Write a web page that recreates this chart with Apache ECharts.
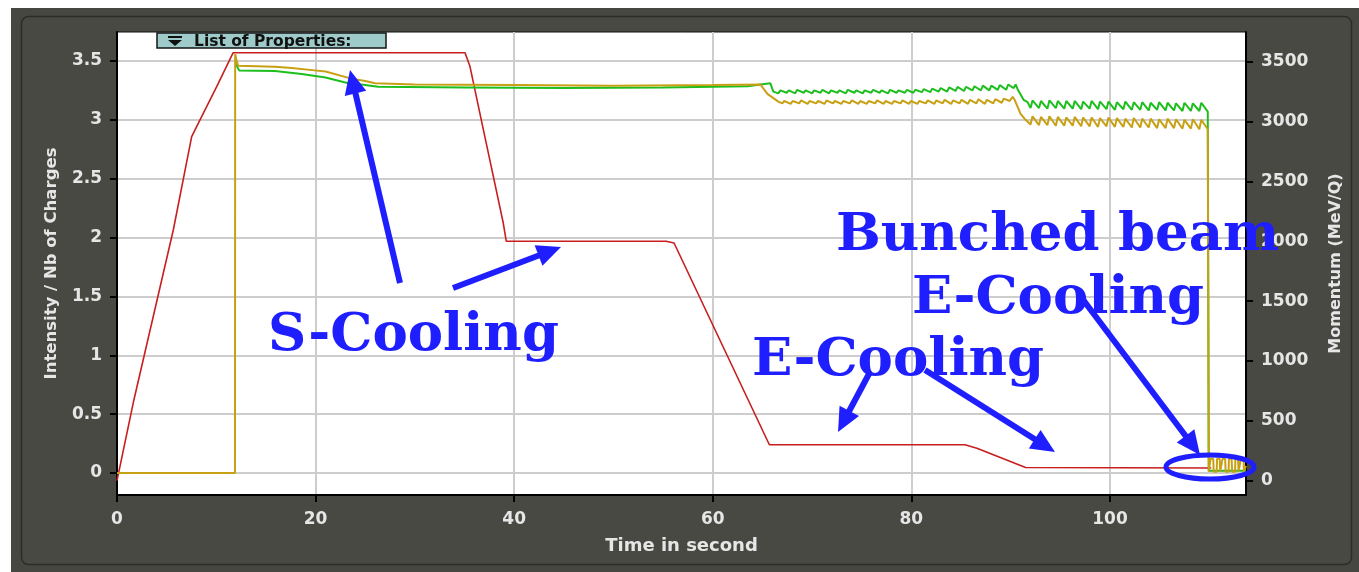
<!DOCTYPE html>
<html><head><meta charset="utf-8">
<script src="https://cdn.jsdelivr.net/npm/echarts@6/dist/echarts.min.js"></script>
<style>html,body{margin:0;padding:0;background:#fff;}#c{width:1359px;height:572px;}</style>
</head><body><div id="c"></div>
<script>
// ---- tick labels ----
const timeTicks = [0, 20, 40, 60, 80, 100];
const intensityTicks = [0, 0.5, 1, 1.5, 2, 2.5, 3, 3.5];
const momentumTicks = [0, 500, 1000, 1500, 2000, 2500, 3000, 3500];

// ---- momentum (MeV/Q), right axis : [time s, value] ----
const momentum = [[0,0],[1.7,674],[5.67,2094],[7.52,2874],[8.36,3013],[10.04,3291],[11.7,3575],
  [35.05,3575],[35.55,3459],[36.9,2930],[38.9,2152],[39.2,2000],[55.3,2000],[55.5,1985],[56.1,1985],
  [65.7,300],[85.4,300],[86.6,271],[91.5,110],[110.2,105]];

// ---- intensity (gold), left axis ----
const intensityGold = [[0,0],[11.88,0],[11.9,3.56],[12.05,3.5],[12.2,3.46],[12.4,3.45],[15.9,3.45],
  [17.6,3.44],[19.9,3.42],[21.0,3.41],[23.6,3.35],[25.0,3.33],[26.0,3.31],[30,3.30],[40,3.295],
  [50,3.29],[60,3.295],[64.8,3.30],[65.5,3.22],[66.6,3.155],
  [67.0,3.14],[67.2,3.16],[67.85,3.135],[68.05,3.16],[68.7,3.14],[68.9,3.165],[69.55,3.135],[69.75,3.16],
  [70.4,3.14],[70.6,3.16],[71.25,3.135],[71.45,3.165],[72.1,3.14],[72.3,3.16],[72.95,3.135],[73.15,3.16],
  [73.8,3.14],[74.0,3.165],[74.65,3.135],[74.85,3.16],[75.5,3.135],[75.7,3.16],[76.35,3.14],[76.55,3.165],
  [77.2,3.135],[77.4,3.16],[78.05,3.135],[78.25,3.16],[78.9,3.14],[79.1,3.165],[79.75,3.135],[79.95,3.16],
  [80.6,3.135],[80.8,3.16],[81.45,3.14],[81.65,3.165],[82.3,3.135],[82.5,3.165],[83.15,3.14],[83.35,3.17],
  [84.0,3.135],[84.2,3.165],[84.85,3.14],[85.05,3.17],[85.7,3.135],[85.9,3.17],[86.55,3.14],[86.75,3.175],
  [87.4,3.135],[87.6,3.17],[88.25,3.14],[88.45,3.175],[89.1,3.145],[89.3,3.18],[89.9,3.16],[90.2,3.195],
  [90.4,3.17],[91.0,3.05],[91.5,3.0],
  [92.0,2.96],[92.2,3.03],[92.85,2.955],[93.05,3.025],[93.7,2.955],[93.9,3.03],[94.55,2.95],[94.75,3.025],
  [95.4,2.95],[95.6,3.02],[96.25,2.95],[96.45,3.025],[97.1,2.945],[97.3,3.02],[97.95,2.945],[98.15,3.02],
  [98.8,2.94],[99.0,3.015],[99.65,2.945],[99.85,3.02],[100.5,2.94],[100.7,3.015],[101.35,2.94],[101.55,3.01],
  [102.2,2.935],[102.4,3.015],[103.05,2.935],[103.25,3.01],[103.9,2.935],[104.1,3.01],[104.75,2.93],[104.95,3.005],
  [105.6,2.93],[105.8,3.01],[106.45,2.93],[106.65,3.005],[107.3,2.925],[107.5,3.0],[108.15,2.925],[108.35,3.005],
  [109.0,2.92],[109.2,3.0],[109.85,2.92],[109.95,0.01],
  [110.1,0.01],[110.13,0.12],[110.4,0.12],[110.45,0.01],[110.75,0.01],[110.78,0.12],[111.05,0.12],[111.1,0.01],
  [111.3,0.01],[111.33,0.12],[111.6,0.12],[111.65,0.01],[111.95,0.01],[111.98,0.12],[112.25,0.12],[112.3,0.01],
  [112.6,0.01],[112.63,0.12],[112.9,0.12],[112.95,0.01],[113.15,0.01],[113.18,0.12],[113.45,0.12],[113.5,0.01],[113.7,0.06]];

// ---- intensity (green), left axis ----
const intensityGreen = [[11.92,3.48],[12.3,3.42],[15.9,3.415],[18.6,3.39],[21.0,3.36],[23.3,3.31],[24.6,3.30],
  [26.3,3.28],[35,3.275],[45,3.27],[55,3.275],[63.5,3.285],[64.8,3.30],[65.0,3.316],[65.8,3.31],[66.1,3.24],
  [66.6,3.225],[66.8,3.25],[67.45,3.23],[67.65,3.25],[68.3,3.225],[68.5,3.255],[69.15,3.23],[69.35,3.25],
  [70.0,3.225],[70.2,3.25],[70.85,3.23],[71.05,3.255],[71.7,3.225],[71.9,3.25],[72.55,3.23],[72.75,3.25],
  [73.4,3.225],[73.6,3.255],[74.25,3.23],[74.45,3.25],[75.1,3.225],[75.3,3.25],[75.95,3.23],[76.15,3.255],
  [76.8,3.23],[77.0,3.25],[77.65,3.225],[77.85,3.255],[78.5,3.23],[78.7,3.25],[79.35,3.23],[79.55,3.255],
  [80.2,3.23],[80.4,3.255],[81.05,3.235],[81.25,3.26],[81.9,3.235],[82.1,3.265],[82.75,3.24],[82.95,3.27],
  [83.6,3.24],[83.8,3.275],[84.45,3.245],[84.65,3.28],[85.3,3.245],[85.5,3.28],[86.15,3.25],[86.35,3.285],
  [87.0,3.25],[87.2,3.29],[87.85,3.25],[88.05,3.29],[88.7,3.255],[88.9,3.295],[89.55,3.255],[89.75,3.30],
  [90.3,3.27],[90.5,3.30],[90.7,3.26],[91.3,3.17],[91.7,3.15],
  [92.0,3.10],[92.2,3.165],[92.85,3.10],[93.05,3.16],[93.7,3.095],[93.9,3.165],[94.55,3.10],[94.75,3.16],
  [95.4,3.095],[95.6,3.16],[96.25,3.095],[96.45,3.16],[97.1,3.09],[97.3,3.155],[97.95,3.095],[98.15,3.16],
  [98.8,3.09],[99.0,3.155],[99.65,3.09],[99.85,3.155],[100.5,3.085],[100.7,3.15],[101.35,3.09],[101.55,3.155],
  [102.2,3.085],[102.4,3.15],[103.05,3.085],[103.25,3.15],[103.9,3.08],[104.1,3.145],[104.75,3.085],[104.95,3.15],
  [105.6,3.08],[105.8,3.145],[106.45,3.08],[106.65,3.14],[107.3,3.075],[107.5,3.145],[108.15,3.075],[108.35,3.14],
  [109.0,3.075],[109.2,3.145],[109.85,3.07],[109.95,0.02],[113.7,0.02]];

// ---- annotations ----
const notes = [
  {text:'S-Cooling', x:268, y:336},
  {text:'E-Cooling', x:752, y:361},
  {text:'E-Cooling', x:912, y:299},
  {text:'Bunched beam', x:836, y:236}
];
const arrows = [[400,283,350,70],[453,288,561,247],[870,372,838,432],[925,370,1055,452],[1078,293,1200,455]];

const BLUE = '#1e1eff';
const LABEL = '#e6e6e6';
const FONT = 'DejaVu Sans';

function arrowEls(a){
  const [x1,y1,x2,y2] = a;
  const dx=x2-x1, dy=y2-y1, L=Math.hypot(dx,dy), ux=dx/L, uy=dy/L;
  const hl=24, hw=11;
  const bx=x2-ux*hl, by=y2-uy*hl;
  return [
    {type:'line', z:100, shape:{x1:x1,y1:y1,x2:bx+ux*3,y2:by+uy*3}, style:{stroke:BLUE,lineWidth:6}},
    {type:'polygon', z:100, shape:{points:[[x2,y2],[bx-uy*hw,by+ux*hw],[bx+uy*hw,by-ux*hw]]}, style:{fill:BLUE}}
  ];
}

const graphic = [
  {type:'rect', z:-10, shape:{x:11,y:8,width:1348,height:564}, style:{fill:'#474741'}},
  {type:'rect', z:-9, shape:{x:21.5,y:16.5,width:1330,height:548,r:7}, style:{fill:'#494943',stroke:'#2c2c29',lineWidth:1.5}},
  {type:'rect', z:90, shape:{x:157,y:33,width:229,height:15}, style:{fill:'#9ecaca',stroke:'#151515',lineWidth:1.5}},
  {type:'line', z:91, shape:{x1:168,y1:37,x2:182,y2:37}, style:{stroke:'#111',lineWidth:2}},
  {type:'polygon', z:91, shape:{points:[[168,40],[182,40],[175,46]]}, style:{fill:'#111'}},
  {type:'text', z:91, x:194, y:42, style:{text:'List of Properties:', fill:'#111', fontFamily:FONT, fontWeight:'bold', fontSize:15.5, align:'left', verticalAlign:'middle'}},
  {type:'ellipse', z:100, shape:{cx:1210,cy:467,rx:44,ry:12}, style:{fill:'none',stroke:BLUE,lineWidth:5}}
];
notes.forEach(n => graphic.push({type:'text', z:100, x:n.x, y:n.y,
  style:{text:n.text, fill:BLUE, fontFamily:'DejaVu Serif', fontWeight:'bold', fontSize:53, align:'left', verticalAlign:'middle'}}));
arrows.forEach(a => graphic.push(...arrowEls(a)));

const axisLabelStyle = {color:LABEL, fontFamily:FONT, fontWeight:'bold', fontSize:17};
const nameStyle = {color:LABEL, fontFamily:FONT, fontWeight:'bold', fontSize:16.5};
const plain = v => String(v);

const chart = echarts.init(document.getElementById('c'), null, {renderer:'canvas'});
chart.setOption({
  animation:false,
  backgroundColor:'#ffffff',
  grid:{left:117, right:113, top:32, bottom:77, show:true, backgroundColor:'#ffffff', borderColor:'#111', borderWidth:1},
  xAxis:{type:'value', min:timeTicks[0], max:113.7, interval:timeTicks[1]-timeTicks[0],
    name:'Time in second', nameLocation:'middle', nameGap:42, nameTextStyle:Object.assign({}, nameStyle, {fontSize:18}),
    axisLine:{onZero:false, lineStyle:{color:'#000',width:2}},
    axisTick:{length:7, lineStyle:{color:'#000',width:2}},
    axisLabel:Object.assign({margin:16, showMaxLabel:false, formatter:plain}, axisLabelStyle),
    splitLine:{show:true, showMinLine:false, showMaxLine:false, lineStyle:{color:'#cdcdcd',width:2}}},
  yAxis:[
    {type:'value', position:'left', min:-0.187, max:3.746, splitNumber:intensityTicks.length,
      minInterval:intensityTicks[1]-intensityTicks[0], maxInterval:intensityTicks[1]-intensityTicks[0],
      name:'Intensity / Nb of Charges', nameLocation:'middle', nameRotate:90, nameGap:57, nameTextStyle:nameStyle,
      axisLine:{show:true, onZero:false, lineStyle:{color:'#000',width:2}},
      axisTick:{show:true, length:7, lineStyle:{color:'#000',width:2}},
      axisLabel:Object.assign({margin:15, showMinLabel:false, showMaxLabel:false, formatter:plain, padding:[3,0,0,0]}, axisLabelStyle),
      splitLine:{show:true, showMinLine:false, showMaxLine:false, lineStyle:{color:'#cdcdcd',width:2}}},
    {type:'value', position:'right', min:-120, max:3748, splitNumber:momentumTicks.length,
      minInterval:momentumTicks[1]-momentumTicks[0], maxInterval:momentumTicks[1]-momentumTicks[0],
      name:'Momentum (MeV/Q)', nameLocation:'middle', nameRotate:90, nameGap:82, nameTextStyle:Object.assign({}, nameStyle, {fontSize:16}),
      axisLine:{show:true, onZero:false, lineStyle:{color:'#000',width:2}},
      axisTick:{show:true, length:7, lineStyle:{color:'#000',width:2}},
      axisLabel:Object.assign({margin:15, showMinLabel:false, showMaxLabel:false, formatter:plain, padding:[3,0,0,0]}, axisLabelStyle),
      splitLine:{show:false}}
  ],
  series:[
    {name:'Momentum', type:'line', yAxisIndex:1, data:momentum, showSymbol:false, symbol:'none',
      lineStyle:{color:'#c81e1e', width:1.6}, z:2},
    {name:'Nb of Charges', type:'line', yAxisIndex:0, data:intensityGreen, showSymbol:false, symbol:'none',
      lineStyle:{color:'#1ebe1e', width:2}, z:3},
    {name:'Intensity', type:'line', yAxisIndex:0, data:intensityGold, showSymbol:false, symbol:'none',
      lineStyle:{color:'#c8a014', width:2}, z:4}
  ],
  graphic:graphic
});
</script>
</body></html>
